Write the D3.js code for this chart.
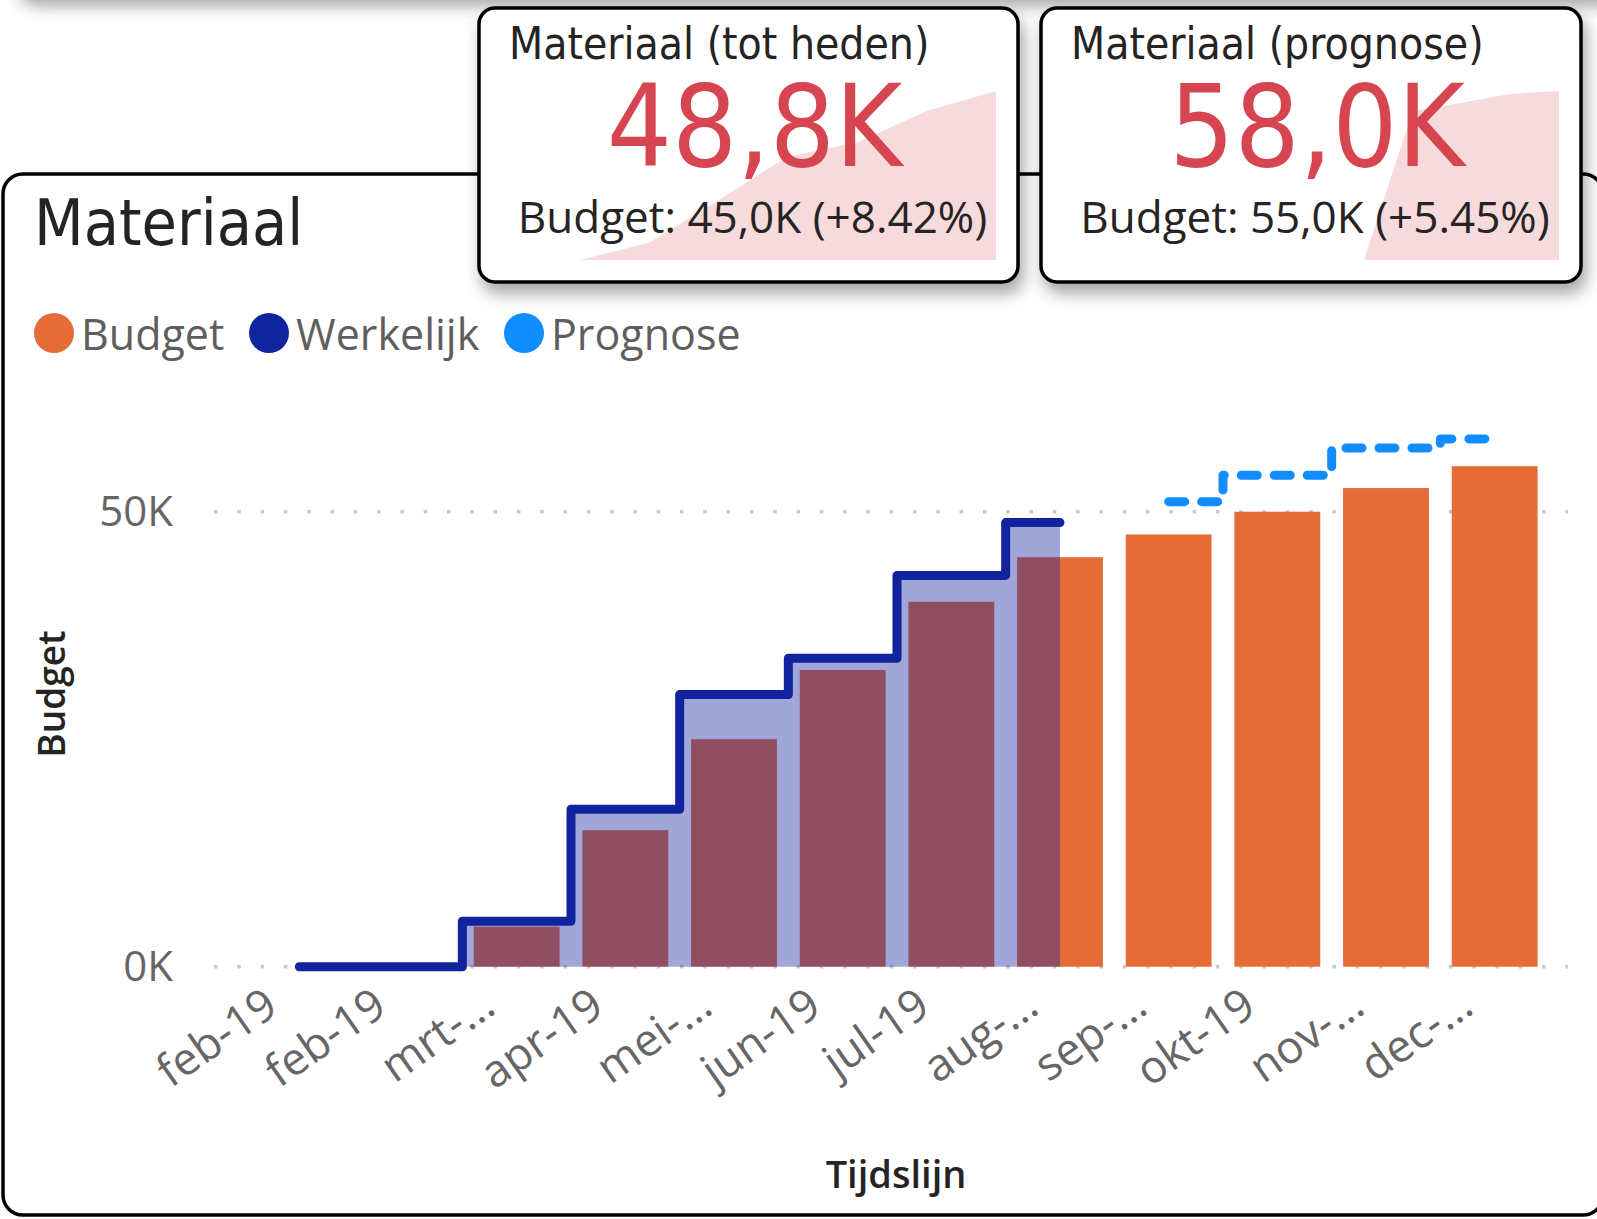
<!DOCTYPE html>
<html>
<head>
<meta charset="utf-8">
<script src="https://cdn.jsdelivr.net/npm/d3@7"></script>
<style>
body { margin: 0; background: #fff; }
</style>
</head>
<body>
<script>
var svgWidth = 1597;
var svgHeight = 1219;

// chart data (K)
var months = ["feb-19", "feb-19", "mrt-\u2026", "apr-19", "mei-\u2026", "jun-19", "jul-19", "aug-\u2026", "sep-\u2026", "okt-19", "nov-\u2026", "dec-\u2026"];
var budget = [null, null, 4.4, 15.0, 25.0, 32.6, 40.1, 45.0, 47.5, 50.0, 52.6, 55.0];
var werkelijk = [0, 0, 5.0, 17.3, 29.9, 33.9, 43.0, 48.8, null, null, null, null];
var prognose = [null, null, null, null, null, null, null, null, 51.1, 54.0, 57.0, 58.0];
var yTicks = [0, 50];
var seriesNames = ["Budget", "Werkelijk", "Prognose"];

// kpi cards
var kpiTitles = ["Materiaal (tot heden)", "Materiaal (prognose)"];
var kpiValues = ["48,8K", "58,0K"];
var kpiBudgets = ["Budget: 45,0K (+8.42%)", "Budget: 55,0K (+5.45%)"];
var trendTotHeden = [0, 5.0, 17.3, 29.9, 33.9, 43.0, 48.8];
var trendPrognose = [0, 51.1, 54.0, 57.0, 58.0];

var colors = ["#E66C37", "#12239E", "#118DFF"];
var red = "#D64550";
var din = "'DejaVu Sans Condensed', 'DejaVu Sans', sans-serif";
var segoe = "'Open Sans', 'Noto Sans', sans-serif";

var svg = d3.select("body").append("svg").attr("width", svgWidth).attr("height", svgHeight);

var defs = svg.append("defs");
var filter = defs.append("filter").attr("id", "shadow")
    .attr("x", "-10%").attr("y", "-10%").attr("width", "125%").attr("height", "135%");
filter.append("feDropShadow")
    .attr("dx", 4).attr("dy", 10).attr("stdDeviation", 8)
    .attr("flood-color", "#000").attr("flood-opacity", 0.35);

// card above, only its shadow shows
svg.append("rect")
    .attr("x", 14).attr("y", -300).attr("width", 1700).attr("height", 296)
    .attr("rx", 20)
    .attr("fill", "#fff")
    .attr("filter", "url(#shadow)");

// chart card
svg.append("rect")
    .attr("x", 3).attr("y", 174).attr("width", 1600).attr("height", 1041)
    .attr("rx", 20)
    .attr("fill", "#fff")
    .attr("stroke", "#000")
    .attr("stroke-width", 3.5);

var x = d3.scaleBand()
    .domain(d3.range(months.length))
    .range([245, 1549])
    .paddingInner(0.21)
    .paddingOuter(0.105);

var y = d3.scaleLinear()
    .domain([0, 50])
    .range([966.7, 511.7]);

function cx(i) { return x(i) + x.bandwidth() / 2; }

// gridlines
svg.selectAll(".grid").data(yTicks).join("line")
    .attr("class", "grid")
    .attr("x1", 214).attr("x2", 1568)
    .attr("y1", function(d) { return y(d); })
    .attr("y2", function(d) { return y(d); })
    .attr("stroke", "#C8C8C8")
    .attr("stroke-width", 3.5)
    .attr("stroke-dasharray", "3.5 19.8");

// budget bars
var budgetData = budget.map(function(v, i) { return {i: i, v: v}; }).filter(function(d) { return d.v != null; });
svg.selectAll(".bar").data(budgetData).join("rect")
    .attr("class", "bar")
    .attr("x", function(d) { return x(d.i); })
    .attr("y", function(d) { return y(d.v); })
    .attr("width", x.bandwidth())
    .attr("height", function(d) { return y(0) - y(d.v); })
    .attr("fill", colors[0]);

// werkelijk area + step line
var werkData = werkelijk.map(function(v, i) { return {i: i, v: v}; });

var area = d3.area()
    .defined(function(d) { return d.v != null; })
    .x(function(d) { return cx(d.i); })
    .y0(y(0))
    .y1(function(d) { return y(d.v); })
    .curve(d3.curveStep);

svg.append("path")
    .datum(werkData)
    .attr("d", area)
    .attr("fill", colors[1])
    .attr("fill-opacity", 0.4);

var line = d3.line()
    .defined(function(d) { return d.v != null; })
    .x(function(d) { return cx(d.i); })
    .y(function(d) { return y(d.v); })
    .curve(d3.curveStep);

svg.append("path")
    .datum(werkData)
    .attr("d", line)
    .attr("fill", "none")
    .attr("stroke", colors[1])
    .attr("stroke-width", 9)
    .attr("stroke-linejoin", "round")
    .attr("stroke-linecap", "round");

// prognose dashed step line
svg.append("path")
    .datum(prognose.map(function(v, i) { return {i: i, v: v}; }))
    .attr("d", line)
    .attr("fill", "none")
    .attr("stroke", colors[2])
    .attr("stroke-width", 9)
    .attr("stroke-dasharray", "16 17")
    .attr("stroke-linejoin", "round")
    .attr("stroke-linecap", "round");

// y axis
var yAxis = svg.append("g")
    .attr("transform", "translate(173,0)")
    .call(d3.axisLeft(y).tickValues(yTicks).tickFormat(function(d) { return d + "K"; }).tickSize(0).tickPadding(0));
yAxis.select(".domain").remove();
yAxis.selectAll("text")
    .attr("font-family", segoe)
    .attr("font-size", 42)
    .attr("fill", "#666");

// x axis
var xAxis = svg.append("g")
    .attr("transform", "translate(0," + y(0) + ")")
    .call(d3.axisBottom(x).tickFormat(function(i) { return months[i]; }).tickSize(0));
xAxis.select(".domain").remove();
xAxis.selectAll("text")
    .attr("x", 0).attr("y", 0).attr("dy", 0)
    .attr("text-anchor", "end")
    .attr("transform", "translate(-19,45) rotate(-35)")
    .attr("font-family", segoe)
    .attr("font-size", 45)
    .attr("fill", "#666");

// axis titles
svg.append("text")
    .attr("transform", "translate(65,694) rotate(-90)")
    .attr("text-anchor", "middle")
    .attr("font-family", segoe)
    .attr("font-weight", 600)
    .attr("font-size", 37)
    .attr("fill", "#252423")
    .text("Budget");

svg.append("text")
    .attr("x", 896).attr("y", 1188)
    .attr("text-anchor", "middle")
    .attr("font-family", segoe)
    .attr("font-weight", 600)
    .attr("font-size", 38)
    .attr("fill", "#252423")
    .text("Tijdslijn");

// title
svg.append("text")
    .attr("x", 34).attr("y", 245)
    .attr("font-family", din)
    .attr("font-size", 64)
    .attr("fill", "#252423")
    .text("Materiaal");

// legend
var legendX = [54, 269, 524];
var legend = svg.selectAll(".legend").data(seriesNames).join("g")
    .attr("class", "legend")
    .attr("transform", function(d, i) { return "translate(" + legendX[i] + ",333)"; });
legend.append("circle")
    .attr("r", 20)
    .attr("fill", function(d, i) { return colors[i]; });
legend.append("text")
    .attr("x", 27).attr("y", 17)
    .attr("font-family", segoe)
    .attr("font-size", 43)
    .attr("fill", "#605E5C")
    .text(function(d) { return d; });

// kpi cards
var cards = [
    {x: 479, w: 539, trend: trendTotHeden, trendLeft: 580},
    {x: 1041, w: 540, trend: trendPrognose, trendLeft: 1364}
];

cards.forEach(function(c, k) {
    var g = svg.append("g");

    g.append("rect")
        .attr("x", c.x).attr("y", 8).attr("width", c.w).attr("height", 274)
        .attr("rx", 16)
        .attr("fill", "#fff")
        .attr("stroke", "#000")
        .attr("stroke-width", 3.5)
        .attr("filter", "url(#shadow)");

    var tx = d3.scaleLinear().domain([0, c.trend.length - 1]).range([c.trendLeft, c.x + c.w - 22]);
    var ty = d3.scaleLinear().domain([0, d3.max(c.trend)]).range([260, 91]);

    g.append("path")
        .datum(c.trend)
        .attr("d", d3.area()
            .x(function(d, i) { return tx(i); })
            .y0(ty(0))
            .y1(function(d) { return ty(d); }))
        .attr("fill", red)
        .attr("fill-opacity", 0.2);

    g.append("text")
        .attr("x", c.x + 30).attr("y", 59)
        .attr("font-family", din)
        .attr("font-size", 44)
        .attr("fill", "#252423")
        .text(kpiTitles[k]);

    g.append("text")
        .attr("x", c.x + c.w / 2 + 6).attr("y", 166)
        .attr("text-anchor", "middle")
        .attr("font-family", din)
        .attr("font-size", 114)
        .attr("fill", red)
        .text(kpiValues[k]);

    g.append("text")
        .attr("x", c.x + c.w / 2 + 4).attr("y", 233)
        .attr("text-anchor", "middle")
        .attr("font-family", segoe)
        .attr("font-size", 44)
        .attr("fill", "#252423")
        .text(kpiBudgets[k]);
});
</script>
</body>
</html>
